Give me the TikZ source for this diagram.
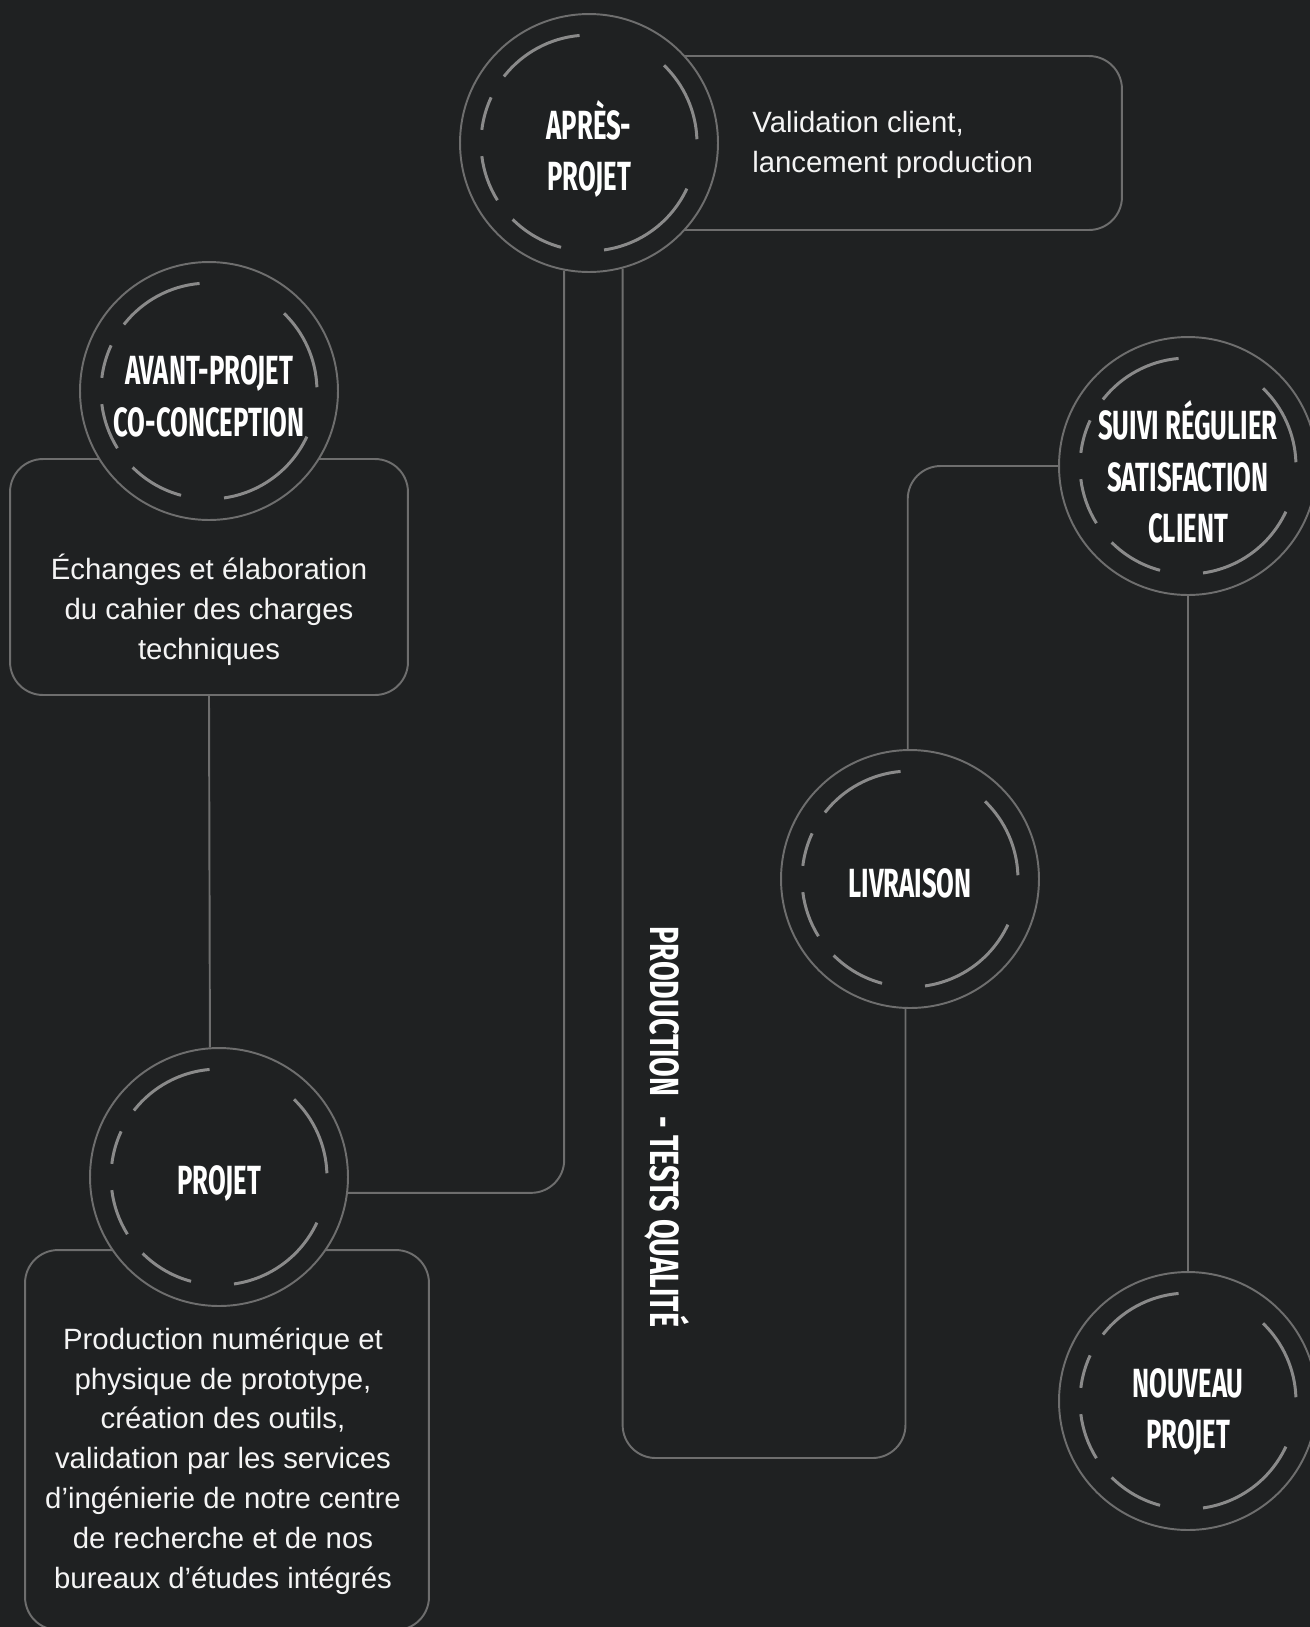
\documentclass[tikz,border=0pt]{standalone}
\usepackage{fontspec}
\setmainfont{Liberation Sans}
\newfontfamily\titlefont[FakeStretch=0.63]{Fira Sans}
\newfontfamily\labelfont[FakeStretch=0.7]{Fira Sans}
\usetikzlibrary{calc}

\definecolor{bgcol}{HTML}{1F2122}
\definecolor{linecol}{HTML}{6E6E6E}
\definecolor{ringcol}{HTML}{8A8A8A}
\definecolor{textcol}{HTML}{F4F4F4}

\tikzset{
  stage/.style={circle, draw=linecol, line width=1.1pt, fill=bgcol,
    minimum size=5.16cm, inner sep=0pt},
  stagetitle/.style={text=white, align=center, inner sep=0pt,
    font=\titlefont\bfseries\fontsize{23.2}{29.5}\selectfont},
  infobox/.style={draw=linecol, line width=1.1pt, rounded corners=0.66cm},
  infotext/.style={text=textcol, inner sep=0pt,
    font=\fontsize{16.7}{22.7}\selectfont},
  link/.style={draw=linecol, line width=1.1pt, rounded corners=0.66cm},
  ring/.style={draw=ringcol, line width=1.7pt},
}

% dashed inner ring of a stage
\newcommand{\stagering}[1]{%
  \foreach \a/\b in {2/46,95/142,155/173,187/212,225/255,278/335}
    \draw[ring] ($(#1.center)+(\a:2.16cm)$) arc[start angle=\a, end angle=\b, radius=2.16cm];
}

\begin{document}
\begin{tikzpicture}[x=0.02cm, y=-0.02cm]
  % Background
  \useasboundingbox (0,0) rectangle (1310,1627);
  \fill[bgcol] (0,0) rectangle (1310,1627);

  % Boxes
  \node[infobox, minimum width=10.44cm, minimum height=3.48cm] (apbox) at (861,143) {};
  \node[infobox, minimum width=7.96cm, minimum height=4.72cm] (avbox) at (209,577) {};
  \node[infobox, minimum width=8.08cm, minimum height=7.6cm] (prbox) at (227,1440) {};

  % Stages (name / centre / title shift / title)
  \foreach \n/\p/\d/\t in {
      apres/{589,143}/0.12/{APRÈS-\\PROJET},
      avant/{209,391}/0.10/{AVANT-PROJET\\CO-CONCEPTION},
      projet/{219,1177}/0.12/{PROJET},
      livraison/{910,879}/0.08/{LIVRAISON},
      suivi/{1188,466}/0.12/{SUIVI RÉGULIER\\SATISFACTION\\CLIENT},
      nouveau/{1188,1401}/0.22/{NOUVEAU\\PROJET}} {
    \node[stage] (\n) at (\p) {};
    \node[stagetitle] (\n-title) at ([yshift=-\d cm]\n.center) {\t};
    \stagering{\n}
  }

  % Texts
  \node[infotext, anchor=west, align=left] (aptext) at (752,145)
    {Validation client,\\lancement production};
  \node[infotext, align=center] (avtext) at (209,610)
    {Échanges et élaboration\\du cahier des charges\\techniques};
  \node[infotext, align=center] (prtext) at (223,1461)
    {Production numérique et\\physique de prototype,\\création des outils,\\validation par les services\\d’ingénierie de notre centre\\de recherche et de nos\\bureaux d’études intégrés};

  % Connectors
  \draw[link] (avbox.south) -- (projet.94.4);
  \draw[link] (projet.-7) -| (apres.-101.6);
  \coordinate (bend) at (livraison.-92.7 |- 0,1458);
  \draw[link] (apres.-75.6) |- (bend) -- (livraison.-92.7);
  \draw[link] (livraison.91.8) |- (suivi.west);
  \draw[link] (suivi.south) -- (nouveau.north);

  % Vertical label
  \node[rotate=-90, text=white, inner sep=0pt,
    font=\labelfont\bfseries\fontsize{23.2}{28.3}\selectfont] (prodlabel) at (667,1127)
    {PRODUCTION\hspace{0.5em}- TESTS QUALITÉ};
\end{tikzpicture}
\end{document}
